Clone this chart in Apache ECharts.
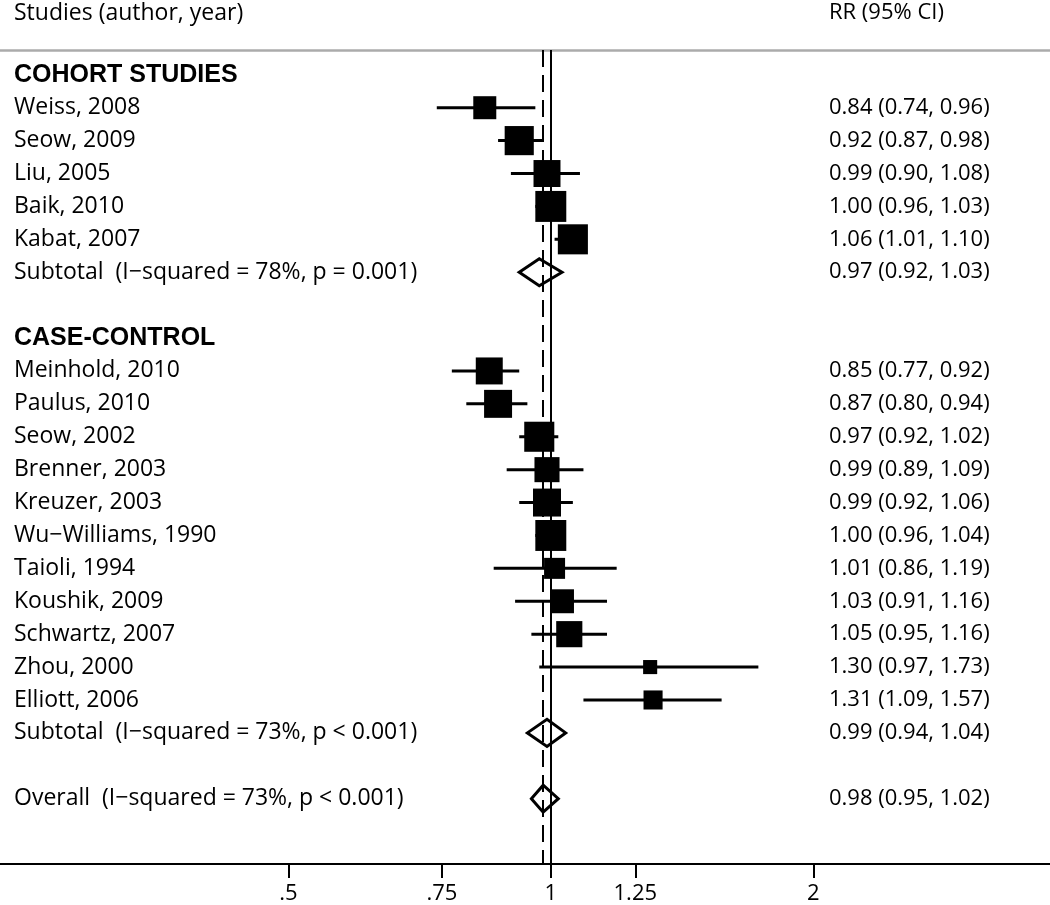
<!DOCTYPE html>
<html>
<head>
<meta charset="utf-8">
<script src="https://cdn.jsdelivr.net/npm/echarts@6/dist/echarts.min.js"></script>
<style>html,body{margin:0;padding:0;background:#fff}#chart{width:1050px;height:905px}</style>
</head>
<body>
<div id="chart"></div>
<script>
// ---------------- data ----------------
const columnHeaders = ['Studies (author, year)', 'RR (95% CI)'];
const groupTitles = ['COHORT STUDIES', 'CASE-CONTROL'];

const cohortStudies = ['Weiss, 2008', 'Seow, 2009', 'Liu, 2005', 'Baik, 2010', 'Kabat, 2007'];
const cohortRR = [0.84, 0.92, 0.99, 1.00, 1.06];
const cohortLo = [0.74, 0.87, 0.90, 0.96, 1.01];
const cohortHi = [0.96, 0.98, 1.08, 1.03, 1.10];
const cohortWeight = [4.8, 7.7, 6.6, 8.7, 8.2];

const caseStudies = ['Meinhold, 2010', 'Paulus, 2010', 'Seow, 2002', 'Brenner, 2003', 'Kreuzer, 2003',
  'Wu\u2212Williams, 1990', 'Taioli, 1994', 'Koushik, 2009', 'Schwartz, 2007', 'Zhou, 2000', 'Elliott, 2006'];
const caseRR = [0.85, 0.87, 0.97, 0.99, 0.99, 1.00, 1.01, 1.03, 1.05, 1.30, 1.31];
const caseLo = [0.77, 0.80, 0.92, 0.89, 0.92, 0.96, 0.86, 0.91, 0.95, 0.97, 1.09];
const caseHi = [0.92, 0.94, 1.02, 1.09, 1.06, 1.04, 1.19, 1.16, 1.16, 1.73, 1.57];
const caseWeight = [6.6, 7.1, 8.2, 5.7, 7.1, 8.7, 4.0, 5.2, 6.2, 1.8, 3.3];

const summaryLabels = ['Subtotal  (I\u2212squared = 78%, p = 0.001)',
  'Subtotal  (I\u2212squared = 73%, p < 0.001)',
  'Overall  (I\u2212squared = 73%, p < 0.001)'];
const summaryRR = [0.97, 0.99, 0.98];
const summaryLo = [0.92, 0.94, 0.95];
const summaryHi = [1.03, 1.04, 1.02];

const xTickValues = [0.5, 0.75, 1, 1.25, 2];
const xTickLabels = ['.5', '.75', '1', '1.25', '2'];

// ---------------- build rows ----------------
const rows = [];          // {left, right, kind}
const studyData = [];     // [rr, row, lo, hi, weight]
const diamondData = [];   // [rr, row, lo, hi]
const fmt = (r, l, h) => r.toFixed(2) + ' (' + l.toFixed(2) + ', ' + h.toFixed(2) + ')';

function addGroup(title, names, rr, lo, hi, w, si) {
  rows.push({ left: title, right: '', kind: 'title' });
  names.forEach((n, i) => {
    studyData.push([rr[i], rows.length, lo[i], hi[i], w[i]]);
    rows.push({ left: n, right: fmt(rr[i], lo[i], hi[i]), kind: 'study' });
  });
  diamondData.push([summaryRR[si], rows.length, summaryLo[si], summaryHi[si]]);
  rows.push({ left: summaryLabels[si], right: fmt(summaryRR[si], summaryLo[si], summaryHi[si]), kind: 'sum' });
  rows.push({ left: '', right: '', kind: 'blank' });
}
addGroup(groupTitles[0], cohortStudies, cohortRR, cohortLo, cohortHi, cohortWeight, 0);
addGroup(groupTitles[1], caseStudies, caseRR, caseLo, caseHi, caseWeight, 1);
diamondData.push([summaryRR[2], rows.length, summaryLo[2], summaryHi[2]]);
rows.push({ left: summaryLabels[2], right: fmt(summaryRR[2], summaryLo[2], summaryHi[2]), kind: 'sum' });

const rowIdx = rows.map((r, i) => i);

// ---------------- chart ----------------
const FONT = '"Open Sans", "Noto Sans", sans-serif';
const chart = echarts.init(document.getElementById('chart'), null, { renderer: 'canvas' });

const rowText = (v, side) => {
  const i = Math.round(v);
  const r = rows[i];
  if (!r) return '';
  if (side === 'left' && r.kind === 'title') return '{b|' + r.left + '}';
  return side === 'left' ? r.left : r.right;
};

const yCommon = {
  type: 'value', inverse: true, min: -0.754, max: 23.985,
  axisLine: { show: false }, axisTick: { show: false }, splitLine: { show: false }
};

chart.setOption({
  animation: false,
  backgroundColor: '#ffffff',
  title: [
    { text: columnHeaders[0], left: 14, top: 2, padding: 0, textStyle: { fontFamily: FONT, fontSize: 23, fontWeight: 'normal', color: '#000' } },
    { text: columnHeaders[1], left: 829, top: 2, padding: 0, textStyle: { fontFamily: FONT, fontSize: 22, fontWeight: 'normal', color: '#000' } }
  ],
  grid: { left: 0, right: 0, top: 50, bottom: 41, containLabel: false },
  xAxis: [
    {
      type: 'log', logBase: 2, min: 0.2335, max: 3.737,
      axisLine: { onZero: false, lineStyle: { color: '#000', width: 2 } },
      axisTick: { show: true, length: 14, lineStyle: { color: '#000', width: 2 }, customValues: xTickValues },
      axisLabel: {
        customValues: xTickValues, margin: 19, color: '#000', fontFamily: FONT, fontSize: 22,
        formatter: v => {
          let best = 0;
          xTickValues.forEach((t, i) => { if (Math.abs(t - v) < Math.abs(xTickValues[best] - v)) best = i; });
          return xTickLabels[best];
        }
      },
      splitLine: { show: false }
    },
    {
      type: 'value', position: 'top', min: 0, max: 1,
      axisLine: { show: true, onZero: false, lineStyle: { color: '#ababab', width: 2.5 } },
      axisTick: { show: false }, axisLabel: { show: false }, splitLine: { show: false }
    }
  ],
  yAxis: [
    Object.assign({}, yCommon, {
      position: 'left', offset: 0,
      axisLabel: {
        inside: true, margin: 14, customValues: rowIdx, color: '#000', fontFamily: FONT, fontSize: 23,
        formatter: v => rowText(v, 'left'),
        rich: { b: { fontFamily: '"Liberation Sans", Arial, sans-serif', fontWeight: 'bold', fontSize: 25, color: '#000' } }
      }
    }),
    Object.assign({}, yCommon, {
      position: 'left', offset: -815,
      axisLabel: {
        inside: true, margin: 14, customValues: rowIdx, color: '#000', fontFamily: FONT, fontSize: 22,
        formatter: v => rowText(v, 'right')
      }
    })
  ],
  series: [
    {
      type: 'custom', name: 'summary', xAxisIndex: 0, yAxisIndex: 0,
      encode: { x: [0, 2, 3], y: 1 },
      data: diamondData,
      renderItem: (params, api) => {
        const c = api.coord([api.value(0), api.value(1)]);
        const l = api.coord([api.value(2), api.value(1)]);
        const h = api.coord([api.value(3), api.value(1)]);
        const hh = 13.5;
        return {
          type: 'polygon',
          shape: { points: [[l[0], c[1]], [c[0], c[1] - hh], [h[0], c[1]], [c[0], c[1] + hh]] },
          style: { fill: 'none', stroke: '#000', lineWidth: 3 }
        };
      },
      markLine: {
        silent: true, symbol: 'none', label: { show: false },
        data: [
          { xAxis: 1, lineStyle: { type: 'solid', color: '#000', width: 2 } },
          { xAxis: summaryRR[2], lineStyle: { type: [17, 8], color: '#000', width: 2 } }
        ]
      },
      z: 3
    },
    {
      type: 'custom', name: 'studies', xAxisIndex: 0, yAxisIndex: 0,
      encode: { x: [0, 2, 3], y: 1 },
      data: studyData,
      renderItem: (params, api) => {
        const c = api.coord([api.value(0), api.value(1)]);
        const l = api.coord([api.value(2), api.value(1)]);
        const h = api.coord([api.value(3), api.value(1)]);
        const s = 10.5 * Math.sqrt(api.value(4));
        return {
          type: 'group',
          children: [
            { type: 'line', shape: { x1: l[0], y1: c[1], x2: h[0], y2: c[1] }, style: { stroke: '#000', lineWidth: 3 } },
            { type: 'rect', shape: { x: c[0] - s / 2, y: c[1] - s / 2, width: s, height: s }, style: { fill: '#000' } }
          ]
        };
      },
      z: 4
    }
  ]
});
</script>
</body>
</html>
